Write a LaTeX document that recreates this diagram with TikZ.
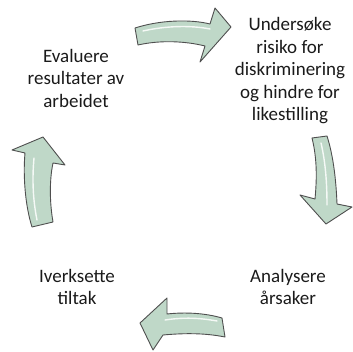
\documentclass[tikz,border=0pt]{standalone}
\usepackage{fontspec}
\setmainfont{Carlito}
\definecolor{arrowfill}{HTML}{BFD8C8}
\definecolor{arrowline}{HTML}{4F4F4F}
\definecolor{txt}{HTML}{1A1A1A}
\begin{document}
\begin{tikzpicture}[x=1pt,y=-1pt,
  cyclearrow/.style={fill=arrowfill,draw=arrowline,line width=0.9pt,line join=round},
  shine/.style={draw=white,line width=1.4pt,line cap=round,opacity=0.85},
  label/.style={align=center,text=txt,font=\fontsize{19}{22.5}\selectfont,inner sep=0pt}]
\useasboundingbox (0,0) rectangle (353,352);
% arrows
\draw[cyclearrow] (135,28) .. controls (160,20) and (190,19) .. (210,24) -- (215,8) -- (231,27) -- (200,62) -- (205,46) .. controls (185,41) and (160,40) .. (138,45) -- cycle;
\draw[shine] (143,31) .. controls (165,26) and (190,25) .. (210,29);
\draw[cyclearrow] (312,138) -- (327,136) .. controls (333,155) and (336,178) .. (337,204) -- (352,207) -- (326,224) -- (300,195) -- (315,199) .. controls (317,178) and (317,158) .. (312,138) -- cycle;
\draw[shine] (321,143) .. controls (325,160) and (327,180) .. (327,205);
\draw[cyclearrow] (222,318) .. controls (205,313) and (185,312) .. (167,314) -- (167,298) -- (140,323) -- (153,350) -- (163,335) .. controls (185,333) and (205,333) .. (225,337) -- cycle;
\draw[shine] (217,321) .. controls (200,318) and (185,317) .. (165,320);
\draw[cyclearrow] (32,227) .. controls (25,205) and (23,175) .. (25,153) -- (12,150) -- (43,137) -- (65,165) -- (53,163) .. controls (49,182) and (50,205) .. (53,222) -- cycle;
\draw[shine] (37,220) .. controls (33,200) and (32,180) .. (34,158);
% labels
\node[label] (evaluere) at (76,78) {Evaluere\\resultater av\\arbeidet};
\node[label] (undersoke) at (290,71) {Undersøke\\risiko for\\diskriminering\\og hindre for\\likestilling};
\node[label] (analysere) at (288,287) {Analysere\\årsaker};
\node[label] (iverksette) at (77,287) {Iverksette\\tiltak};
\end{tikzpicture}
\end{document}
